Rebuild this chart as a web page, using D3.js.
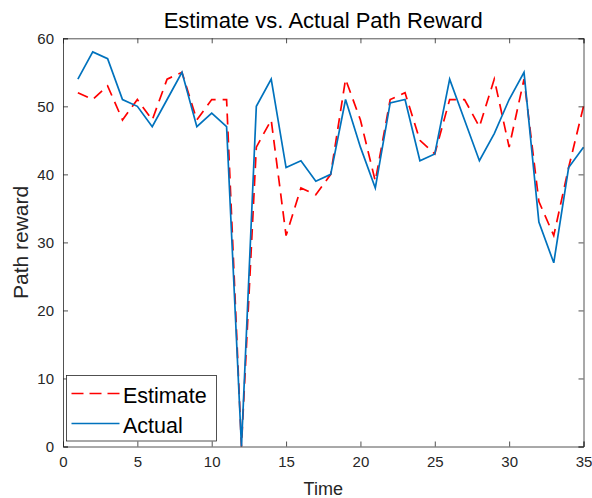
<!DOCTYPE html>
<html><head><meta charset="utf-8">
<script src="https://cdn.jsdelivr.net/npm/d3@7"></script>
<style>body{margin:0;background:#fff}svg{display:block;font-family:"Liberation Sans",Arial,sans-serif}</style>
</head><body>
<svg id="c" width="592" height="498"></svg>
<script>
const times = d3.range(1, 36);
const estimate = [52,51,53,48,51,48,54,55,48,51,51,0,44,48,31,38,37,40,54,48,39,51,52,45,43,51,51,47,54,44,54,36,31,41,50];
const actual   = [54,58,57,51,50,47,51,55,47,49,47,0,50,54,41,42,39,40,51,44,38,50.5,51,42,43,54,48,42,46,51,55,33,27,41,44];
const xTicks = [0,5,10,15,20,25,30,35];
const yTicks = [0,10,20,30,40,50,60];
const seriesNames = ["Estimate","Actual"];
const colors = ["#ff0000","#0072bd"];

const svg = d3.select("#c");
const L=63, R=583.5, T=38.3, B=446.5;
const x = d3.scaleLinear().domain([0,35]).range([L,R]);
const y = d3.scaleLinear().domain([0,60]).range([B,T]);
const axisCol = "#262626";
const dash = "11,7";

// plot lines
const line = d3.line().x((d,i)=>x(times[i])).y(d=>y(d));
svg.append("path").datum(estimate).attr("d",line).attr("fill","none")
  .attr("stroke",colors[0]).attr("stroke-width",1.7).attr("stroke-dasharray",dash);
svg.append("path").datum(actual).attr("d",line).attr("fill","none")
  .attr("stroke",colors[1]).attr("stroke-width",1.7);

// axes
const tickFont = "15px";
const gx = svg.append("g").attr("transform",`translate(0,${B})`)
  .call(d3.axisBottom(x).tickValues(xTicks).tickSize(-5).tickPadding(10));
const gy = svg.append("g").attr("transform",`translate(${L},0)`)
  .call(d3.axisLeft(y).tickValues(yTicks).tickSize(-5).tickPadding(9));
const gxt = svg.append("g").attr("transform",`translate(0,${T})`)
  .call(d3.axisTop(x).tickValues(xTicks).tickSize(-5).tickFormat(""));
const gyr = svg.append("g").attr("transform",`translate(${R},0)`)
  .call(d3.axisRight(y).tickValues(yTicks).tickSize(-5).tickFormat(""));
[gx,gy,gxt,gyr].forEach(g=>{
  g.selectAll("path").attr("stroke",axisCol).attr("stroke-width",0.8);
  g.selectAll("line").attr("stroke",axisCol).attr("stroke-width",0.8);
  g.selectAll("text").attr("fill",axisCol).style("font-size",tickFont).style("font-family","Liberation Sans, Arial, sans-serif");
});

// title and labels
svg.append("text").attr("x",(L+R)/2).attr("y",28).attr("text-anchor","middle")
  .style("font-size","22px").attr("fill","#000").text("Estimate vs. Actual Path Reward");
svg.append("text").attr("x",(L+R)/2).attr("y",495).attr("text-anchor","middle")
  .style("font-size","18px").attr("fill",axisCol).text("Time");
svg.append("text").attr("transform",`translate(28,${(T+B)/2}) rotate(-90)`).attr("text-anchor","middle")
  .style("font-size","21px").attr("fill",axisCol).text("Path reward");

// legend
const lg = svg.append("g");
lg.append("rect").attr("x",66.5).attr("y",375.5).attr("width",150).attr("height",65.5)
  .attr("fill","#fff").attr("stroke",axisCol).attr("stroke-width",0.8);
seriesNames.forEach((n,i)=>{
  const yy = 393.5 + i*30;
  lg.append("line").attr("x1",71.5).attr("x2",119.5).attr("y1",yy).attr("y2",yy)
    .attr("stroke",colors[i]).attr("stroke-width",1.7).attr("stroke-dasharray",i===0?"12,6":null);
  lg.append("text").attr("x",123).attr("y",yy+9.5).style("font-size","21.5px").attr("fill","#000").text(n);
});
</script>
</body></html>
